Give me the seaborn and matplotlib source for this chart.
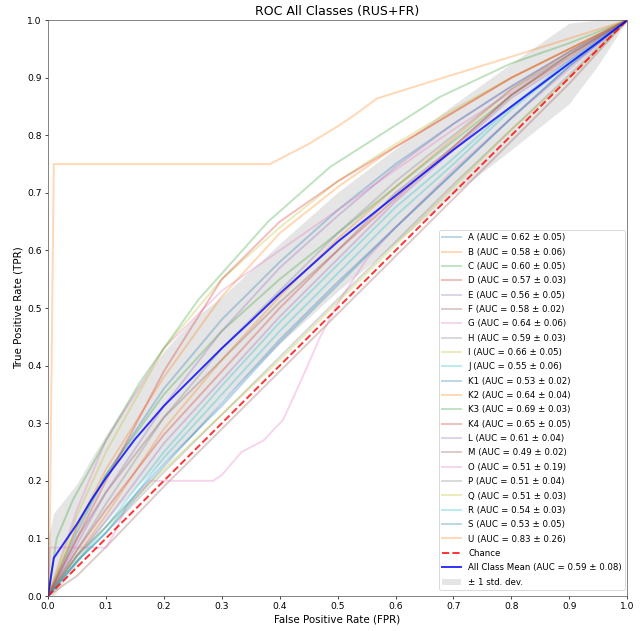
import numpy as np
import pandas as pd
import matplotlib
matplotlib.use("Agg")
import matplotlib.pyplot as plt
import seaborn as sns

# ---- per-class mean ROC curves ----
class_names = ["A", "B", "C", "D", "E", "F", "G", "H", "I", "J",
               "K1", "K2", "K3", "K4", "L", "M", "O", "P", "Q", "R", "S", "U"]
auc_mean = [0.62, 0.58, 0.60, 0.57, 0.56, 0.58, 0.64, 0.59, 0.66, 0.55,
            0.53, 0.64, 0.69, 0.65, 0.61, 0.49, 0.51, 0.51, 0.51, 0.54, 0.53, 0.83]
auc_std = [0.05, 0.06, 0.05, 0.03, 0.05, 0.02, 0.06, 0.03, 0.05, 0.06,
           0.02, 0.04, 0.03, 0.05, 0.04, 0.02, 0.19, 0.04, 0.03, 0.03, 0.05, 0.26]

# shared FPR grid for most classes
fpr_grid = [0.0, 0.05, 0.1, 0.2, 0.3, 0.4, 0.5, 0.6, 0.7, 0.8, 0.9, 1.0]

tpr_A = [0.0, 0.11, 0.21, 0.36, 0.48, 0.58, 0.67, 0.75, 0.82, 0.885, 0.945, 1.0]
tpr_B = [0.0, 0.07, 0.14, 0.29, 0.41, 0.52, 0.62, 0.71, 0.795, 0.88, 0.945, 1.0]
tpr_C = [0.0, 0.12, 0.21, 0.35, 0.46, 0.55, 0.63, 0.71, 0.79, 0.87, 0.94, 1.0]
tpr_D = [0.0, 0.08, 0.15, 0.28, 0.39, 0.50, 0.60, 0.69, 0.78, 0.87, 0.935, 1.0]
tpr_E = [0.0, 0.07, 0.13, 0.265, 0.375, 0.485, 0.585, 0.685, 0.775, 0.865, 0.93, 1.0]
tpr_F = [0.0, 0.10, 0.18, 0.31, 0.41, 0.51, 0.60, 0.70, 0.78, 0.87, 0.94, 1.0]
tpr_G = [0.0, 0.15, 0.27, 0.43, 0.53, 0.60, 0.67, 0.74, 0.81, 0.875, 0.94, 1.0]
tpr_H = [0.0, 0.08, 0.16, 0.31, 0.43, 0.53, 0.63, 0.72, 0.80, 0.88, 0.94, 1.0]
tpr_I = [0.0, 0.14, 0.25, 0.43, 0.55, 0.64, 0.72, 0.785, 0.845, 0.90, 0.95, 1.0]
tpr_J = [0.0, 0.06, 0.12, 0.25, 0.365, 0.475, 0.575, 0.675, 0.76, 0.85, 0.93, 1.0]
tpr_K1 = [0.0, 0.06, 0.11, 0.225, 0.335, 0.445, 0.545, 0.64, 0.735, 0.83, 0.92, 1.0]
tpr_K2 = [0.0, 0.12, 0.22, 0.38, 0.52, 0.63, 0.71, 0.78, 0.84, 0.90, 0.95, 1.0]
tpr_K4 = [0.0, 0.10, 0.20, 0.39, 0.55, 0.65, 0.72, 0.78, 0.84, 0.90, 0.95, 1.0]
tpr_L = [0.0, 0.09, 0.18, 0.33, 0.46, 0.57, 0.66, 0.745, 0.82, 0.885, 0.945, 1.0]
tpr_M = [0.0, 0.035, 0.085, 0.19, 0.29, 0.39, 0.49, 0.59, 0.69, 0.79, 0.89, 1.0]
tpr_P = [0.0, 0.06, 0.11, 0.215, 0.315, 0.415, 0.515, 0.615, 0.715, 0.81, 0.905, 1.0]
tpr_Q = [0.0, 0.07, 0.12, 0.22, 0.315, 0.41, 0.51, 0.61, 0.71, 0.81, 0.90, 1.0]
tpr_R = [0.0, 0.06, 0.11, 0.24, 0.35, 0.46, 0.56, 0.66, 0.75, 0.845, 0.925, 1.0]
tpr_S = [0.0, 0.07, 0.12, 0.23, 0.33, 0.44, 0.54, 0.64, 0.735, 0.83, 0.92, 1.0]

# classes with their own FPR breakpoints
fpr_K3 = [0.0, 0.015, 0.043, 0.1, 0.158, 0.2, 0.26, 0.3, 0.38, 0.487, 0.568, 0.677, 0.8, 0.9, 1.0]
tpr_K3 = [0.0, 0.10, 0.167, 0.27, 0.37, 0.43, 0.515, 0.56, 0.65, 0.745, 0.797, 0.867, 0.925, 0.96, 1.0]

fpr_O = [0.0, 0.003, 0.1, 0.115, 0.135, 0.176, 0.285, 0.3, 0.334, 0.372,
         0.406, 0.435, 0.47, 0.504, 0.55, 0.6, 0.7, 0.8, 0.9, 1.0]
tpr_O = [0.0, 0.084, 0.084, 0.11, 0.155, 0.2, 0.2, 0.21, 0.25, 0.27,
         0.306, 0.37, 0.45, 0.514, 0.585, 0.64, 0.74, 0.83, 0.915, 1.0]

fpr_U = [0.0, 0.002, 0.01, 0.383, 0.45, 0.504, 0.533, 0.568, 0.66, 0.827, 1.0]
tpr_U = [0.0, 0.01, 0.75, 0.75, 0.785, 0.818, 0.838, 0.864, 0.893, 0.945, 1.0]

# ---- mean over all classes and its spread ----
fpr_mean = [0.0, 0.01, 0.05, 0.075, 0.1, 0.15, 0.2, 0.25, 0.3, 0.35,
            0.4, 0.5, 0.6, 0.7, 0.8, 0.9, 0.95, 1.0]
tpr_mean = [0.0, 0.066, 0.125, 0.167, 0.205, 0.272, 0.33, 0.38, 0.43, 0.477,
            0.525, 0.615, 0.695, 0.775, 0.85, 0.925, 0.962, 1.0]
tpr_std = [0.10, 0.078, 0.07, 0.072, 0.075, 0.085, 0.095, 0.10, 0.09, 0.088,
           0.087, 0.086, 0.082, 0.078, 0.075, 0.07, 0.04, 0.0]
mean_auc, std_auc = 0.59, 0.08

curves = {
    "A": (fpr_grid, tpr_A), "B": (fpr_grid, tpr_B), "C": (fpr_grid, tpr_C),
    "D": (fpr_grid, tpr_D), "E": (fpr_grid, tpr_E), "F": (fpr_grid, tpr_F),
    "G": (fpr_grid, tpr_G), "H": (fpr_grid, tpr_H), "I": (fpr_grid, tpr_I),
    "J": (fpr_grid, tpr_J), "K1": (fpr_grid, tpr_K1), "K2": (fpr_grid, tpr_K2),
    "K3": (fpr_K3, tpr_K3), "K4": (fpr_grid, tpr_K4), "L": (fpr_grid, tpr_L),
    "M": (fpr_grid, tpr_M), "O": (fpr_O, tpr_O), "P": (fpr_grid, tpr_P),
    "Q": (fpr_grid, tpr_Q), "R": (fpr_grid, tpr_R), "S": (fpr_grid, tpr_S),
    "U": (fpr_U, tpr_U),
}

palette = sns.color_palette("tab10", 10)

fig = plt.figure(figsize=(10, 9.86), dpi=64)
ax = fig.add_axes([0.075, 0.0555, 0.905, 0.9125])

for i, name in enumerate(class_names):
    fx, fy = curves[name]
    sns.lineplot(x=fx, y=fy, ax=ax, color=palette[i % 10], alpha=0.3, lw=2.2,
                 label=f"{name} (AUC = {auc_mean[i]:.2f} \u00b1 {auc_std[i]:.2f})",
                 sort=False, estimator=None)

sns.lineplot(x=[0, 1], y=[0, 1], ax=ax, color="r", linestyle="--", lw=2.2,
             alpha=0.8, label="Chance", sort=False, estimator=None)

sns.lineplot(x=fpr_mean, y=tpr_mean, ax=ax, color="b", lw=2.2, alpha=0.8,
             label=f"All Class Mean (AUC = {mean_auc:.2f} \u00b1 {std_auc:.2f})",
             sort=False, estimator=None)

m = np.array(tpr_mean)
s = np.array(tpr_std)
upper = np.minimum(m + s, 1)
lower = np.maximum(m - s, 0)
ax.fill_between(fpr_mean, lower, upper, color="grey", alpha=0.2, lw=0,
                label="\u00b1 1 std. dev.")

ax.set_xlim(0.0, 1.0)
ax.set_ylim(0.0, 1.0)
ax.set_xticks(np.arange(0, 1.01, 0.1))
ax.set_yticks(np.arange(0, 1.01, 0.1))
ax.tick_params(labelsize=10.3)
for sp in ax.spines.values():
    sp.set_edgecolor("#555555")
ax.set_xlabel("False Positive Rate (FPR)", fontsize=11.6)
ax.set_ylabel("True Positive Rate (TPR)", fontsize=11.6)
ax.set_title("ROC All Classes (RUS+FR)", fontsize=14)

ax.legend(loc="lower right", bbox_to_anchor=(0.9965, 0.0104), borderaxespad=0,
          fontsize=9.7, handlelength=2.2, labelspacing=0.62)

fig.savefig("out.png", dpi=64)
